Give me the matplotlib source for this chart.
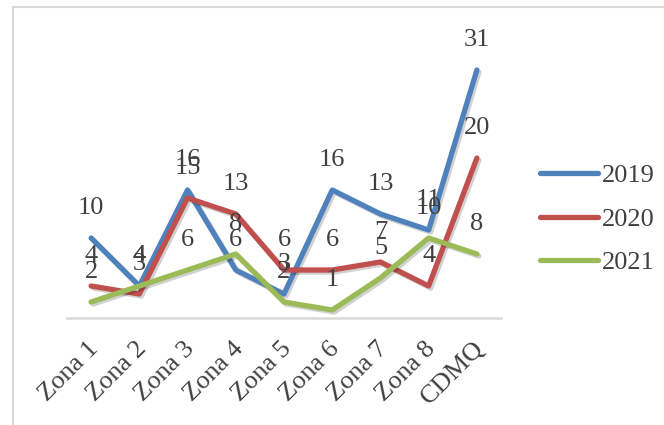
import matplotlib
matplotlib.use("Agg")
import matplotlib.pyplot as plt
import matplotlib.patheffects as pe
import matplotlib.transforms as mtransforms
from matplotlib.lines import Line2D

categorias = ["Zona 1", "Zona 2", "Zona 3", "Zona 4", "Zona 5",
              "Zona 6", "Zona 7", "Zona 8", "CDMQ"]
v2019 = [10, 4, 16, 6, 3, 16, 13, 11, 31]
v2020 = [4, 3, 15, 13, 6, 6, 7, 4, 20]
v2021 = [2, 4, 6, 8, 2, 1, 5, 10, 8]

series = [("2019", v2019, "#4F81BD"),
          ("2020", v2020, "#C0504D"),
          ("2021", v2021, "#9BBB59")]

plt.rcParams["font.family"] = ["Liberation Serif", "DejaVu Serif"]
texto = "#404040"

fig = plt.figure(figsize=(6.64, 4.25), dpi=100)
ax = fig.add_axes([67 / 664, 107 / 425, 434 / 664, 280 / 425])

x = list(range(len(categorias)))
sombra = [pe.SimpleLineShadow(offset=(1.5, -1.5), shadow_color="#000000", alpha=0.18),
          pe.Normal()]
for nombre, vals, color in series:
    ax.plot(x, vals, color=color, lw=3.8, label=nombre,
            solid_capstyle="round", solid_joinstyle="round", path_effects=sombra)
    for xi, v in zip(x, vals):
        ax.annotate(str(v), (xi, v), xytext=(0, 30), textcoords="offset pixels",
                    ha="center", va="center", fontsize=19, color=texto)

ax.set_xlim(-0.5, len(categorias) - 0.5)
ax.set_ylim(0, 35)
for s in ["top", "right", "left"]:
    ax.spines[s].set_visible(False)
ax.spines["bottom"].set_color("#d9d9d9")
ax.spines["bottom"].set_linewidth(1.8)
ax.set_yticks([])
ax.set_xticks(x)
ax.set_xticklabels(categorias, rotation=45, ha="right", rotation_mode="anchor",
                   fontsize=19, color=texto)
ax.tick_params(axis="x", length=0, pad=14)
desplaza = mtransforms.ScaledTranslation(-4 / 100, 0, fig.dpi_scale_trans)
for lab in ax.get_xticklabels():
    lab.set_transform(lab.get_transform() + desplaza)

leg = ax.legend(loc="center left", bbox_to_anchor=(540 / 664, 206 / 425),
                bbox_transform=fig.transFigure, frameon=False, fontsize=19,
                handlelength=2.2, handletextpad=0.15, labelspacing=0.75,
                borderpad=0, borderaxespad=0)
for t in leg.get_texts():
    t.set_color(texto)
for h in leg.get_lines():
    h.set_path_effects([])
    h.set_solid_capstyle("round")

# marco del gráfico
fig.add_artist(Line2D([13 / 664, 13 / 664], [0, 1 - 7 / 425], color="#d9d9d9", lw=1.5))
fig.add_artist(Line2D([13 / 664, 1], [1 - 7 / 425, 1 - 7 / 425], color="#d9d9d9", lw=1.5))

fig.savefig("out.png", dpi=100)
plt.close(fig)
